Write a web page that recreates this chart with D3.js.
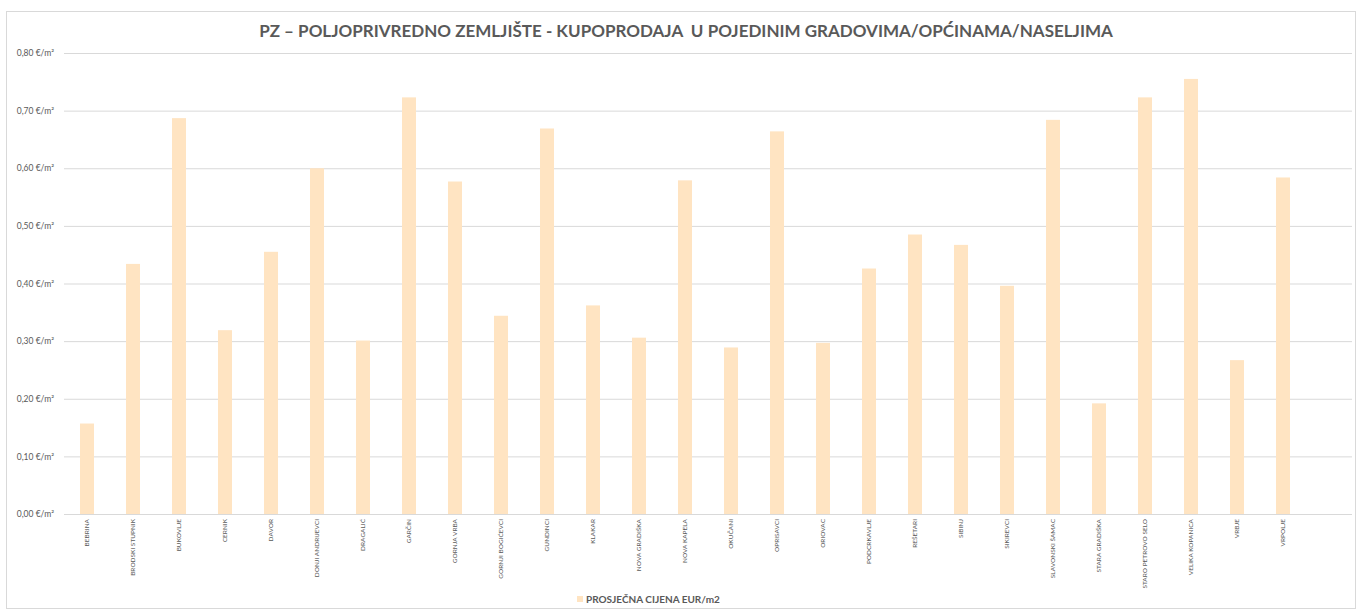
<!DOCTYPE html>
<html>
<head>
<meta charset="utf-8">
<script src="https://cdn.jsdelivr.net/npm/d3@7"></script>
<style>
  body { margin: 0; background: #fff; }
  svg text { font-family: Lato, "Open Sans", sans-serif; fill: #595959; }
</style>
</head>
<body>
<div id="chart"></div>
<script>
// data
const places = ["BEBRINA", "BRODSKI STUPNIK", "BUKOVLJE", "CERNIK", "DAVOR", "DONJI ANDRIJEVCI",
  "DRAGALIĆ", "GARČIN", "GORNJA VRBA", "GORNJI BOGIĆEVCI", "GUNDINCI", "KLAKAR",
  "NOVA GRADIŠKA", "NOVA KAPELA", "OKUČANI", "OPRISAVCI", "ORIOVAC", "PODCRKAVLJE",
  "REŠETARI", "SIBINJ", "SIKIREVCI", "SLAVONSKI ŠAMAC", "STARA GRADIŠKA",
  "STARO PETROVO SELO", "VELIKA KOPANICA", "VRBJE", "VRPOLJE", ""];
const prices = [0.157, 0.434, 0.687, 0.319, 0.455, 0.600,
  0.301, 0.723, 0.577, 0.344, 0.669, 0.362,
  0.306, 0.579, 0.289, 0.664, 0.297, 0.426,
  0.485, 0.467, 0.396, 0.684, 0.192,
  0.723, 0.755, 0.267, 0.584, null];
const yTicks = [0, 0.1, 0.2, 0.3, 0.4, 0.5, 0.6, 0.7, 0.8];
const chartTitle = "PZ \u2013 POLJOPRIVREDNO ZEMLJIŠTE - KUPOPRODAJA  U POJEDINIM GRADOVIMA/OPĆINAMA/NASELJIMA";
const seriesName = "PROSJEČNA CIJENA EUR/m2";

const width = 1361, height = 611;
const margin = { top: 53, right: 9, bottom: 97, left: 64 };

const svg = d3.select("#chart").append("svg")
  .attr("width", width)
  .attr("height", height);

// chart border
svg.append("rect")
  .attr("x", 6.5).attr("y", 11.5)
  .attr("width", 1349).attr("height", 597)
  .attr("fill", "#fff")
  .attr("stroke", "#d9d9d9");

svg.append("text")
  .attr("x", 686).attr("y", 37)
  .attr("text-anchor", "middle")
  .style("font-size", "17px")
  .style("font-weight", "bold")
  .style("white-space", "pre")
  .text(chartTitle);

const x = d3.scaleBand()
  .domain(places)
  .range([margin.left, width - margin.right])
  .paddingInner(0.696)
  .paddingOuter(0.348);

const y = d3.scaleLinear()
  .domain([0, 0.8])
  .range([height - margin.bottom, margin.top]);

const fmt = d => d.toFixed(2).replace(".", ",") + " €/m²";

// grid + y labels
const yAxis = svg.append("g")
  .attr("transform", `translate(${margin.left},0)`)
  .call(d3.axisLeft(y)
    .tickValues(yTicks)
    .tickSize(-(width - margin.left - margin.right))
    .tickPadding(10)
    .tickFormat(fmt));
yAxis.select(".domain").remove();
yAxis.selectAll(".tick line").attr("stroke", "#d9d9d9");
yAxis.selectAll(".tick text")
  .style("font-size", "8.5px")
  .attr("fill", "#595959");

svg.append("g")
  .selectAll("rect")
  .data(places.map((p, i) => ({ place: p, price: prices[i] })).filter(d => d.price != null))
  .enter().append("rect")
  .attr("x", d => x(d.place))
  .attr("y", d => y(d.price))
  .attr("width", x.bandwidth())
  .attr("height", d => y(0) - y(d.price))
  .attr("fill", "#ffe4c2");

// x labels
const xAxis = svg.append("g")
  .attr("transform", `translate(0,${y(0)})`)
  .call(d3.axisBottom(x).tickSize(0).tickPadding(0));
xAxis.select(".domain").remove();
xAxis.selectAll(".tick text")
  .attr("transform", "rotate(-90)")
  .attr("x", -5)
  .attr("y", 0)
  .attr("dy", "0.32em")
  .attr("text-anchor", "end")
  .style("font-size", "6.5px")
  .attr("fill", "#595959");

// legend
const legend = svg.append("g").attr("transform", "translate(577,596)");
legend.append("rect")
  .attr("width", 6).attr("height", 6)
  .attr("fill", "#ffe4c2");
legend.append("text")
  .attr("x", 9).attr("y", 7)
  .style("font-size", "10px")
  .style("font-weight", "bold")
  .text(seriesName);
</script>
</body>
</html>
